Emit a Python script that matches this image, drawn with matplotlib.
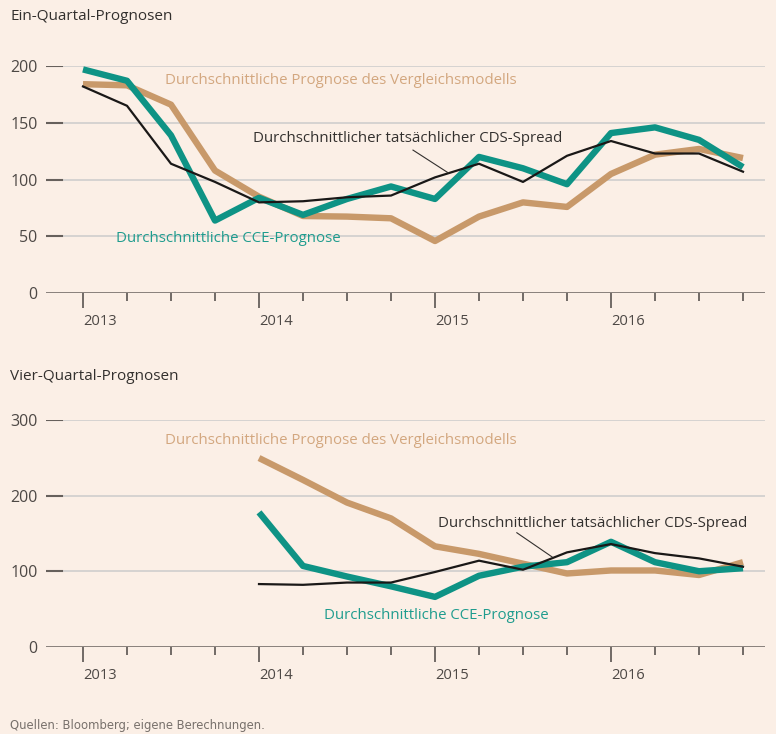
import matplotlib
matplotlib.use('Agg')
import matplotlib.pyplot as plt

# quarters 2013Q1 .. 2016Q4
quarters = [f'{y}Q{q}' for y in (2013, 2014, 2015, 2016) for q in (1, 2, 3, 4)]
year_labels = ['2013', '2014', '2015', '2016']

# Ein-Quartal-Prognosen
one_q_cce = [197, 187, 139, 64, 84, 69, 83, 94, 83, 120, 110, 96, 141, 146, 135, 111]
one_q_bench = [184, 183, 166, 108, 85, 68, 67.5, 66, 46, 67.5, 80, 76, 105, 122, 127, 119]
one_q_actual = [182, 165, 114, 98, 80, 81, 84.5, 86, 102, 114, 98, 121, 134, 123, 123, 107]

# Vier-Quartal-Prognosen (ab 2014)
four_q_cce = [178, 107, 93, 80, 66, 94, 106, 112, 139, 112, 100, 104]
four_q_bench = [250, 221, 191, 170, 133, 123, 110, 97, 101, 101, 95, 112]
four_q_actual = [83, 82, 85, 85, 99, 114, 102, 125, 136, 124, 117, 106]

BG = '#fbefe6'
TEAL = '#0e9385'
TAN = '#c8996a'
TAN_TXT = '#d3a77f'
TEAL_TXT = '#1f9c8e'
DARK = '#33302e'
GRID = '#d3d0cf'
AXIS = '#66605c'

plt.rcParams['font.family'] = ['Open Sans', 'DejaVu Sans']

W, H = 776, 734
fig = plt.figure(figsize=(W / 100, H / 100), dpi=100, facecolor=BG)


def setup(ax, ymax, step):
    ax.set_facecolor(BG)
    for s in ax.spines.values():
        s.set_visible(False)
    ax.set_xlim(-37 / 44, 682 / 44)
    ax.set_ylim(0, ymax)
    yt = list(range(0, ymax + 1, step))
    frac = 16 / 719
    for v in yt[1:]:
        ax.axhline(v, xmin=frac, xmax=1, color=GRID, lw=1.3, zorder=0)
        ax.axhline(v, xmin=0, xmax=frac, color=AXIS, lw=1.5, zorder=1)
    ax.axhline(0, color=AXIS, lw=1.8, zorder=1)
    ax.set_yticks(yt)
    ax.set_yticklabels([str(v) for v in yt])
    ax.tick_params(axis='y', length=0, pad=6, labelsize=11.5, labelcolor='#4d4845')
    ax.set_xticks([0, 4, 8, 12])
    ax.set_xticklabels(year_labels, ha='left')
    ax.set_xticks(range(16), minor=True)
    ax.tick_params(axis='x', which='major', length=11, width=1.3, color=AXIS,
                   pad=4, labelsize=10.6, labelcolor='#4d4845')
    ax.tick_params(axis='x', which='minor', length=5.5, width=1.3, color=AXIS)


x_all = [quarters.index(q) for q in quarters]
x_four = [quarters.index(q) for q in quarters[4:]]

LBL = 10.8

# top panel
ax1 = fig.add_axes([46 / W, (H - 293.3) / H, 719 / W, 227.3 / H])
setup(ax1, 200, 50)
ax1.plot(x_all, one_q_bench, color=TAN, lw=4.6, solid_capstyle='butt', clip_on=False, zorder=3)
ax1.plot(x_all, one_q_cce, color=TEAL, lw=4.6, solid_capstyle='butt', clip_on=False, zorder=4)
ax1.plot(x_all, one_q_actual, color='#1a1817', lw=1.6, clip_on=False, zorder=5)
ax1.text(1.864, 187, 'Durchschnittliche Prognose des Vergleichsmodells', color=TAN_TXT,
         fontsize=LBL, va='center')
ax1.text(3.864, 136, 'Durchschnittlicher tatsächlicher CDS-Spread', color=DARK,
         fontsize=LBL, va='center')
ax1.text(0.75, 48, 'Durchschnittliche CCE-Prognose', color=TEAL_TXT,
         fontsize=LBL, va='center')
ax1.plot([7.5, 8.3], [126, 106], color=DARK, lw=0.8, zorder=6)

# bottom panel
ax2 = fig.add_axes([46 / W, (H - 646.7) / H, 719 / W, 226.4 / H])
setup(ax2, 300, 100)
ax2.plot(x_four, four_q_bench, color=TAN, lw=4.6, solid_capstyle='butt', clip_on=False, zorder=3)
ax2.plot(x_four, four_q_cce, color=TEAL, lw=4.6, solid_capstyle='butt', clip_on=False, zorder=4)
ax2.plot(x_four, four_q_actual, color='#1a1817', lw=1.6, clip_on=False, zorder=5)
ax2.text(1.864, 273, 'Durchschnittliche Prognose des Vergleichsmodells', color=TAN_TXT,
         fontsize=LBL, va='center')
ax2.text(8.068, 163, 'Durchschnittlicher tatsächlicher CDS-Spread', color=DARK,
         fontsize=LBL, va='center')
ax2.text(5.477, 41, 'Durchschnittliche CCE-Prognose', color=TEAL_TXT,
         fontsize=LBL, va='center')
ax2.plot([9.86, 10.66], [151, 119], color=DARK, lw=0.8, zorder=6)

fig.text(10 / W, 1 - 16 / H, 'Ein-Quartal-Prognosen', color=DARK, fontsize=11, va='center')
fig.text(10 / W, 1 - 376 / H, 'Vier-Quartal-Prognosen', color=DARK, fontsize=11, va='center')
fig.text(10 / W, 1 - 726 / H, 'Quellen: Bloomberg; eigene Berechnungen.', color='#77706b',
         fontsize=9.3, va='center', family='DejaVu Sans', fontstretch='condensed')

fig.savefig('out.png', dpi=100, facecolor=BG)
